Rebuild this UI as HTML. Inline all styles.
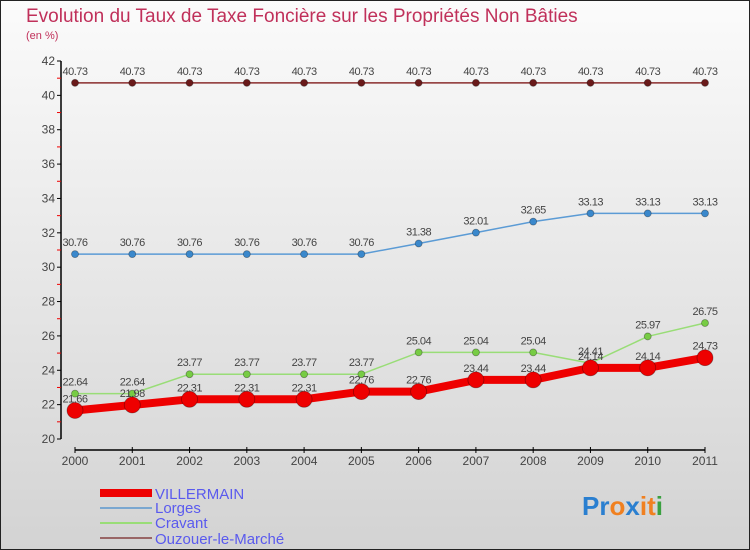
<!DOCTYPE html>
<html><head><meta charset="utf-8"><style>
body{margin:0;}
#c{width:750px;height:550px;position:relative;overflow:hidden;}
svg{display:block;font-family:"Liberation Sans",sans-serif;}
</style></head><body>
<div id="c">
<svg id="s" width="750" height="550">
<defs><linearGradient id="bg" x1="0" y1="0" x2="0" y2="1"><stop offset="0" stop-color="#fbfbfb"/><stop offset="1" stop-color="#d3d3d3"/></linearGradient></defs>
<rect x="0.5" y="0.5" width="749" height="549" fill="url(#bg)" stroke="#222"/>
<text x="26" y="22" font-size="19" fill="#c0305a">Evolution du Taux de Taxe Foncière sur les Propriétés Non Bâties</text>
<text x="26" y="39" font-size="11" fill="#c0305a">(en %)</text>
<g id="axes"></g><g id="series"></g>
<g>
<rect x="100" y="489" width="52" height="8" fill="#ee0000"/>
<text x="155" y="499" font-size="15" fill="#5a5aee">VILLERMAIN</text>
<line x1="100" y1="508" x2="152" y2="508" stroke="#7aa7d0" stroke-width="2"/>
<text x="155" y="513" font-size="15" fill="#5a5aee">Lorges</text>
<line x1="100" y1="523" x2="152" y2="523" stroke="#99dd77" stroke-width="2"/>
<text x="155" y="528" font-size="15" fill="#5a5aee">Cravant</text>
<line x1="100" y1="538" x2="152" y2="538" stroke="#996666" stroke-width="2"/>
<text x="155" y="544" font-size="15" fill="#5a5aee">Ouzouer-le-Marché</text>
</g>
<text x="582" y="515" font-size="26" font-weight="bold"><tspan fill="#2a7fd0">Pr</tspan><tspan fill="#f08020">o</tspan><tspan fill="#2a7fd0">x</tspan><tspan fill="#f08020">i</tspan><tspan fill="#f08020">t</tspan><tspan fill="#3aa040">i</tspan></text>
</svg></div>
<script>
const years=[2000,2001,2002,2003,2004,2005,2006,2007,2008,2009,2010,2011];
const villermain=[21.66,21.98,22.31,22.31,22.31,22.76,22.76,23.44,23.44,24.14,24.14,24.73];
const lorges=[30.76,30.76,30.76,30.76,30.76,30.76,31.38,32.01,32.65,33.13,33.13,33.13];
const cravant=[22.64,22.64,23.77,23.77,23.77,23.77,25.04,25.04,25.04,24.41,25.97,26.75];
const ouzouer=[40.73,40.73,40.73,40.73,40.73,40.73,40.73,40.73,40.73,40.73,40.73,40.73];
const yTicks=[20,22,24,26,28,30,32,34,36,38,40,42];
const NS='http://www.w3.org/2000/svg';
const X=i=>75+i*(705-75)/11;
const Y=v=>439-(v-20)*(439-61)/22;
function mk(p,t,a){const e=document.createElementNS(NS,t);for(const k in a)e.setAttribute(k,a[k]);p.appendChild(e);return e;}
const ax=document.getElementById('axes');
let l=mk(ax,'line',{x1:61,y1:61,x2:61,y2:439,stroke:'#000','stroke-width':1.5});


for(let v=21;v<42;v+=2){let m=mk(ax,'line',{x1:57,x2:61,y1:Y(v),y2:Y(v),stroke:'#e00'});

}
yTicks.forEach(v=>{let t=mk(ax,'line',{x1:57,x2:61,y1:Y(v),y2:Y(v),stroke:'#000'});


let tx=mk(ax,'text',{x:55,y:Y(v)+4,'text-anchor':'end','font-size':12,fill:'#444'});tx.textContent=v;

});
l=mk(ax,'line',{x1:75,y1:450,x2:705,y2:450,stroke:'#000','stroke-width':1.5});


years.forEach((y,i)=>{let t=mk(ax,'line',{x1:X(i),x2:X(i),y1:447,y2:453,stroke:'#000'});


let tx=mk(ax,'text',{x:X(i),y:465,'text-anchor':'middle','font-size':12,fill:'#444'});tx.textContent=y;

});
const sg=document.getElementById('series');
function draw(name,vals,color,w,r,fill){
 const g=mk(sg,'g',{});
 
 
 const pl=mk(g,'polyline',{points:vals.map((v,i)=>X(i)+','+Y(v)).join(' '),fill:'none',stroke:color,'stroke-width':w,'stroke-linejoin':'round'});
 
 
 vals.forEach((v,i)=>{const c=mk(g,'circle',{cx:X(i),cy:Y(v),r:r,fill:fill,stroke:'rgba(0,0,0,0.35)','stroke-width':0.8});
 
 
 const t=mk(g,'text',{x:X(i),y:Y(v)-8,'text-anchor':'middle','font-size':11,fill:'#444','letter-spacing':'-0.5'});t.textContent=v.toFixed(2);
 
 });
}
draw('ouzouer',ouzouer,'#8b2d2d',1.5,3.5,'#6a1a1a');
draw('lorges',lorges,'#5b9bd5',1.5,3.5,'#3a88cc');
draw('cravant',cravant,'#99dd77',1.5,3.5,'#77cc44');
draw('villermain',villermain,'#ee0000',8,8,'#ee0000');
</script>
</body></html>
